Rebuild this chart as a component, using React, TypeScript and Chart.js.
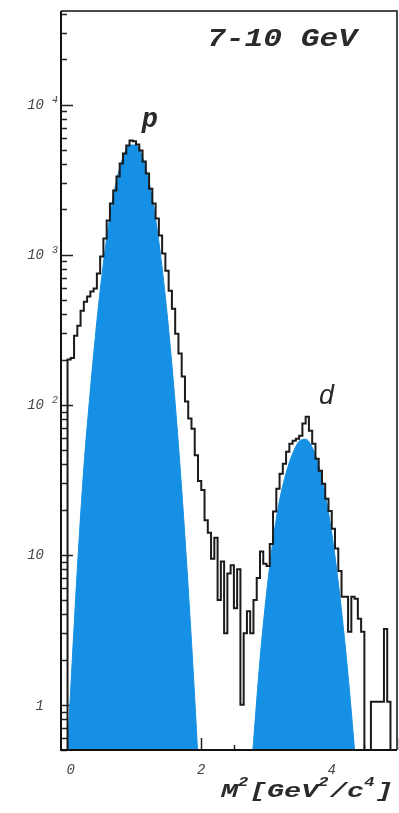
import React, { useEffect, useRef } from 'react';
import { Chart, registerables } from 'chart.js';

Chart.register(...registerables);

// ---- data ----
const BIN_START = -0.15; // GeV^2/c^4, left edge of first bin
const BIN_WIDTH = 0.05;
// counts per bin (0 = empty bin)
const histCounts = [
  0, 0, 200, 205, 288, 336, 423, 486, 525, 567,
  594, 747, 970, 1280, 1690, 2190, 2670, 3310, 4040, 4710,
  5330, 5750, 5700, 5410, 4940, 4170, 3470, 2750, 2190, 1740,
  1340, 1016, 782, 575, 436, 297, 219, 154, 105, 81,
  69, 46, 31, 27, 17, 14, 9.4, 13, 5, 9,
  3, 7.5, 8.5, 4.4, 8, 1, 3, 4.2, 3, 5,
  7, 10.5, 8.7, 8.4, 11.8, 19.4, 27.5, 34.7, 40.4, 48.6,
  55, 57.5, 59.4, 62, 75, 83, 67, 55, 43.6, 36.3,
  29.7, 23.6, 19.6, 14.9, 11, 7.8, 5.25, 5.25, 3.07, 5.25,
  5.1, 3.75, 3.07, 0, 0, 1.05, 1.05, 1.05, 1.05, 3.2,
  1.05, 0, 0,
];

// proton fit curve
const pFitX = [-0.1, 0.0, 0.1, 0.2, 0.3, 0.4, 0.5, 0.6, 0.7, 0.8, 0.9, 1.0, 1.1, 1.2, 1.3, 1.4, 1.5, 1.6, 1.7, 1.8, 1.9, 2.0];
const pFitY = [0.2, 1.3, 8, 38, 125, 360, 880, 1800, 3100, 4450, 5370, 5370, 4450, 3050, 1730, 813, 316, 102, 27.2, 6.0, 1.1, 0.166];

// deuteron fit curve
const dFitX = [2.7, 2.8, 2.9, 3.0, 3.1, 3.2, 3.3, 3.4, 3.5, 3.6, 3.7, 3.8, 3.9, 4.0, 4.1, 4.2, 4.3, 4.4];
const dFitY = [0.155, 0.56, 2.0, 5.5, 12.5, 23, 35, 47.2, 57.0, 58.9, 51.9, 39.2, 25.2, 13.9, 6.53, 2.63, 0.9, 0.265];

const yTickValues = [1, 10, 100, 1000, 10000];
const yTickBase = ['1', '10', '10', '10', '10'];
const yTickExp = ['', '', '2', '3', '4'];
const xTickValues = [0, 2, 4];
const xTickLabels = ['0', '2', '4'];
const titleText = '7-10 GeV';
const peakLabels = ['p', 'd'];
const axisTitlePieces: [string, boolean][] = [
  ['M', false], ['2', true], ['[GeV', false], ['2', true], ['/c', false], ['4', true], [']', false],
];

const X_MIN = -0.15;
const X_MAX = 5.0;
const Y_MIN = 0.5;
const Y_MAX = 42000;
const EMPTY_FLOOR = 0.05; // empty bins drawn down to below the axis floor
const BLUE = '#1590e4';
const MONO = '"Liberation Mono", "DejaVu Sans Mono", monospace';

const axisPlugin = {
  id: 'histAxes',
  beforeDatasetsDraw(chart: any) {
    const ctx = chart.ctx;
    const ys = chart.scales.y;
    const xs = chart.scales.x;
    const { left, bottom } = chart.chartArea;
    ctx.save();
    ctx.strokeStyle = '#222';
    ctx.lineWidth = 1.5;
    ctx.beginPath();
    for (let d = -1; d <= 4; d++) {
      for (let m = 1; m <= 9; m++) {
        const v = m * Math.pow(10, d);
        if (v < ys.min || v > ys.max) continue;
        const py = Math.round(ys.getPixelForValue(v)) + 0.5;
        const len = m === 1 ? 12 : 6;
        ctx.moveTo(left, py);
        ctx.lineTo(left + len, py);
      }
    }
    for (let k = 0; k <= 10; k++) {
      const v = k * 0.5;
      const px = Math.round(xs.getPixelForValue(v)) + 0.5;
      const len = k % 2 === 0 ? 12 : 5;
      ctx.moveTo(px, bottom);
      ctx.lineTo(px, bottom - len);
    }
    ctx.stroke();
    ctx.restore();
  },
  afterDraw(chart: any) {
    const ctx = chart.ctx;
    const ys = chart.scales.y;
    const xs = chart.scales.x;
    const { left, right, top, bottom } = chart.chartArea;
    ctx.save();
    // frame
    ctx.lineWidth = 2;
    ctx.strokeStyle = '#4a4a4a';
    ctx.beginPath();
    ctx.moveTo(left, top);
    ctx.lineTo(right, top);
    ctx.lineTo(right, bottom);
    ctx.stroke();
    ctx.strokeStyle = '#111';
    ctx.beginPath();
    ctx.moveTo(left, top);
    ctx.lineTo(left, bottom);
    ctx.lineTo(right, bottom);
    ctx.stroke();

    // y tick labels
    ctx.fillStyle = '#444';
    yTickValues.forEach((v, i) => {
      const py = ys.getPixelForValue(v);
      ctx.font = `italic 14px ${MONO}`;
      ctx.textAlign = 'right';
      ctx.textBaseline = 'middle';
      ctx.fillText(yTickBase[i], left - 17, py + 1);
      if (yTickExp[i]) {
        ctx.font = `italic 10px ${MONO}`;
        ctx.textAlign = 'left';
        ctx.textBaseline = 'alphabetic';
        ctx.fillText(yTickExp[i], left - 9, py - 2);
      }
    });
    // x tick labels
    ctx.font = `italic 14px ${MONO}`;
    ctx.textAlign = 'center';
    ctx.textBaseline = 'middle';
    xTickValues.forEach((v, i) => {
      ctx.fillText(xTickLabels[i], xs.getPixelForValue(v), bottom + 20);
    });

    // title, stretched horizontally like the scan
    ctx.fillStyle = '#2a2a2a';
    ctx.font = `italic bold 25px ${MONO}`;
    ctx.textAlign = 'left';
    ctx.textBaseline = 'alphabetic';
    const tw = ctx.measureText(titleText).width;
    ctx.save();
    ctx.translate(207, 46);
    ctx.scale(150 / tw, 1);
    ctx.fillText(titleText, 0, 0);
    ctx.restore();

    // peak labels
    ctx.textAlign = 'center';
    ctx.font = `italic bold 27px ${MONO}`;
    ctx.fillText(peakLabels[0], xs.getPixelForValue(1.21), ys.getPixelForValue(7100));
    ctx.font = `italic 27px ${MONO}`;
    ctx.fillText(peakLabels[1], xs.getPixelForValue(3.92), ys.getPixelForValue(101));

    // axis title with superscripts
    ctx.textAlign = 'left';
    const bigFont = `italic bold 20px ${MONO}`;
    const supFont = `italic bold 12px ${MONO}`;
    let total = 0;
    const widths = axisTitlePieces.map(([t, sup]) => {
      ctx.font = sup ? supFont : bigFont;
      const w = ctx.measureText(t).width + (sup ? 1 : 0);
      total += w;
      return w;
    });
    ctx.save();
    ctx.translate(221, 797);
    ctx.scale(172 / total, 1);
    let cx = 0;
    axisTitlePieces.forEach(([t, sup], i) => {
      ctx.font = sup ? supFont : bigFont;
      ctx.fillText(t, cx, sup ? -11 : 0);
      cx += widths[i];
    });
    ctx.restore();
    ctx.restore();
  },
};

export default function App() {
  const ref = useRef<HTMLCanvasElement>(null);
  useEffect(() => {
    const canvas = ref.current;
    if (!canvas) return;
    const histData = histCounts.map((c, i) => ({
      x: +(BIN_START + i * BIN_WIDTH).toFixed(3),
      y: c > 0 ? c : EMPTY_FLOOR,
    }));
    histData.push({ x: +(BIN_START + histCounts.length * BIN_WIDTH).toFixed(3), y: EMPTY_FLOOR });
    const pFit = pFitX.map((x, i) => ({ x, y: pFitY[i] }));
    const dFit = dFitX.map((x, i) => ({ x, y: dFitY[i] }));

    const chart = new Chart(canvas, {
      type: 'line',
      data: {
        datasets: [
          {
            label: 'data',
            data: histData,
            stepped: 'before',
            borderColor: '#1b1b1b',
            borderWidth: 2,
            pointRadius: 0,
            fill: false,
            order: 0,
          },
          {
            label: 'p fit',
            data: pFit,
            borderColor: BLUE,
            borderWidth: 1,
            backgroundColor: BLUE,
            fill: 'start',
            pointRadius: 0,
            cubicInterpolationMode: 'monotone',
            order: 1,
          },
          {
            label: 'd fit',
            data: dFit,
            borderColor: BLUE,
            borderWidth: 1,
            backgroundColor: BLUE,
            fill: 'start',
            pointRadius: 0,
            cubicInterpolationMode: 'monotone',
            order: 2,
          },
        ],
      },
      options: {
        animation: false,
        responsive: true,
        maintainAspectRatio: false,
        events: [],
        layout: { padding: { left: 61, right: 2, top: 11, bottom: 63 } },
        scales: {
          x: { type: 'linear', min: X_MIN, max: X_MAX, display: false },
          y: { type: 'logarithmic', min: Y_MIN, max: Y_MAX, display: false },
        },
        plugins: {
          legend: { display: false },
          tooltip: { enabled: false },
          title: { display: false },
        },
      } as any,
      plugins: [axisPlugin],
    });
    return () => chart.destroy();
  }, []);

  return (
    <div style={{ position: 'absolute', left: 0, top: 0, width: 399, height: 813, background: '#fff' }}>
      <canvas ref={ref} />
    </div>
  );
}
